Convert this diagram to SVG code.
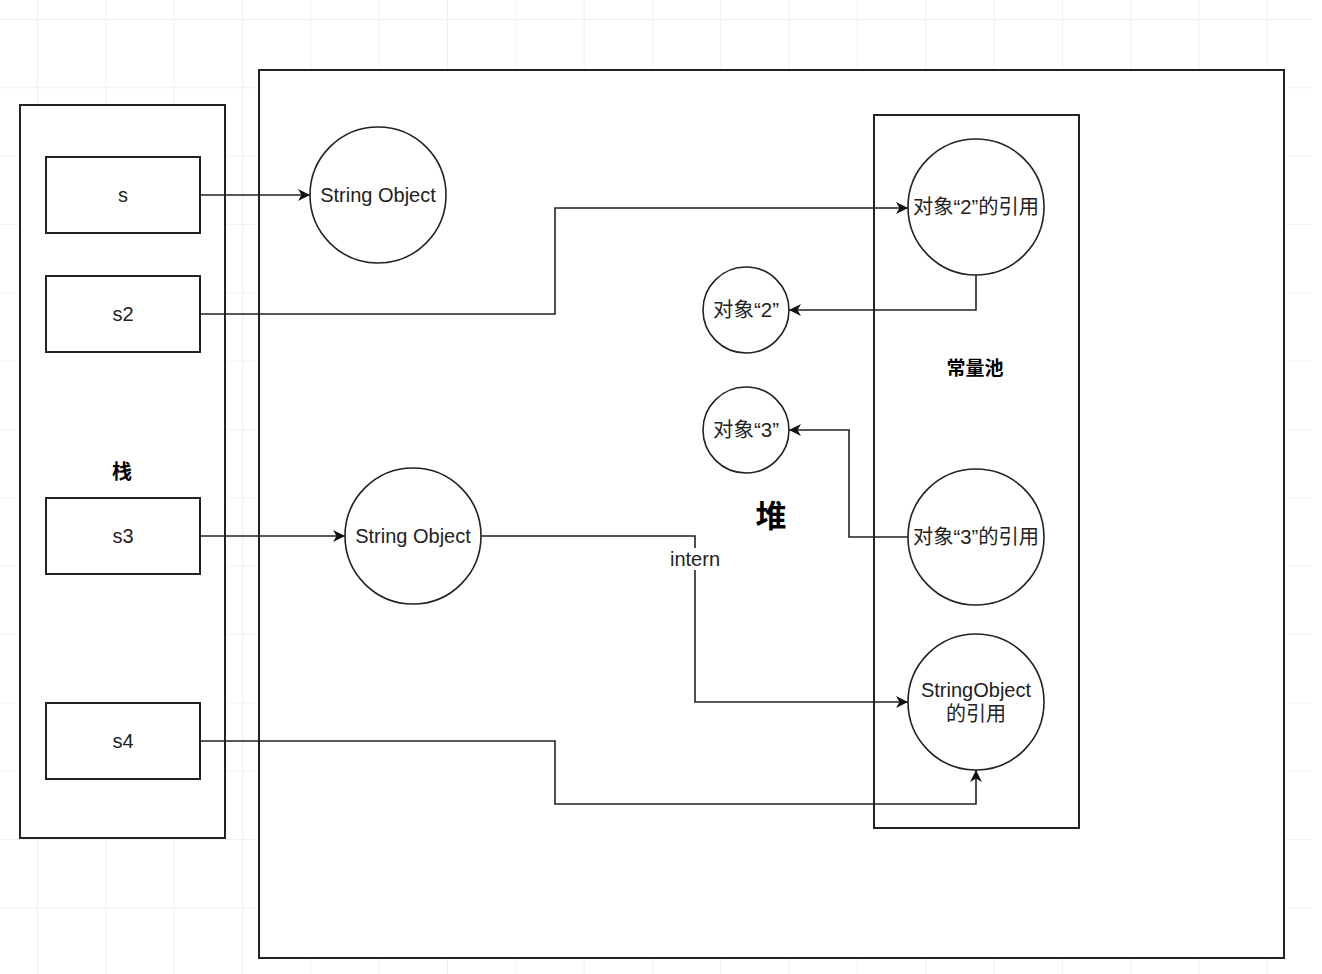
<svg xmlns="http://www.w3.org/2000/svg" width="1322" height="974" viewBox="0 0 1322 974">
<defs>
<pattern id="grid" x="37" y="19" width="68.33" height="68.33" patternUnits="userSpaceOnUse">
<path d="M0 0H68.33M0 0V68.33" fill="none" stroke="#e6e6e6" stroke-width="1.2"/>
</pattern>
<marker id="arr" markerWidth="14" markerHeight="14" refX="12" refY="7" orient="auto" markerUnits="userSpaceOnUse">
<path d="M0 1L12 7L0 13L3.5 7Z" fill="#111"/>
</marker>
</defs>
<style>
.box{fill:#fff;stroke:#222;stroke-width:2}
.circ{fill:#fff;stroke:#222;stroke-width:1.6}
.t{font-family:"Liberation Sans","Noto Sans CJK SC",sans-serif;font-size:20px;fill:#222;text-anchor:middle;dominant-baseline:central}
.b{font-weight:bold;fill:#000}
.edge{fill:none;stroke:#222;stroke-width:1.6}
</style>
<rect width="1322" height="974" fill="#fff"/>
<rect width="1312" height="974" fill="url(#grid)"/>
<g id="stack"><rect class="box" x="20" y="105" width="205" height="733"/><text class="t b" x="122" y="472" style="font-size:20px">栈</text></g>
<g id="heap"><rect class="box" x="259" y="70" width="1025" height="888"/><text class="t b" x="771" y="516" style="font-size:31px">堆</text></g>
<g id="pool"><rect class="box" x="874" y="115" width="205" height="713"/><text class="t b" x="975" y="368" style="font-size:19px">常量池</text></g>
<g id="s"><rect class="box" x="46" y="157" width="154" height="76"/><text class="t" x="123" y="195">s</text></g>
<g id="s2"><rect class="box" x="46" y="276" width="154" height="76"/><text class="t" x="123" y="314">s2</text></g>
<g id="s3"><rect class="box" x="46" y="498" width="154" height="76"/><text class="t" x="123" y="536">s3</text></g>
<g id="s4"><rect class="box" x="46" y="703" width="154" height="76"/><text class="t" x="123" y="741">s4</text></g>
<g id="strobj1"><circle class="circ" cx="378" cy="195" r="68"/><text class="t" x="378" y="195">String Object</text></g>
<g id="strobj2"><circle class="circ" cx="413" cy="536" r="68"/><text class="t" x="413" y="536">String Object</text></g>
<g id="ref2"><circle class="circ" cx="976" cy="207" r="68"/><text class="t" x="976" y="207" textLength="126" lengthAdjust="spacingAndGlyphs">对象“2”的引用</text></g>
<g id="obj2"><circle class="circ" cx="746" cy="310" r="43"/><text class="t" x="746" y="310" textLength="66" lengthAdjust="spacingAndGlyphs">对象“2”</text></g>
<g id="obj3"><circle class="circ" cx="746" cy="430" r="43"/><text class="t" x="746" y="430" textLength="66" lengthAdjust="spacingAndGlyphs">对象“3”</text></g>
<g id="ref3"><circle class="circ" cx="976" cy="537" r="68"/><text class="t" x="976" y="537" textLength="126" lengthAdjust="spacingAndGlyphs">对象“3”的引用</text></g>
<g id="refso"><circle class="circ" cx="976" cy="702" r="68"/><text class="t" x="976" y="690">StringObject</text><text class="t" x="976" y="714">的引用</text></g>
<g id="edges">
<path class="edge" d="M200 195H310" marker-end="url(#arr)"/>
<path class="edge" d="M200 314H555V208H908" marker-end="url(#arr)"/>
<path class="edge" d="M976 275V310H789" marker-end="url(#arr)"/>
<path class="edge" d="M908 537H849V430H789" marker-end="url(#arr)"/>
<path class="edge" d="M200 536H345" marker-end="url(#arr)"/>
<path class="edge" d="M481 536H695V702H908" marker-end="url(#arr)"/>
<path class="edge" d="M200 741H555V804H976V770" marker-end="url(#arr)"/>
<rect x="666" y="548" width="58" height="22" fill="#fff"/>
<text class="t" x="695" y="559">intern</text>
</g>
</svg>
